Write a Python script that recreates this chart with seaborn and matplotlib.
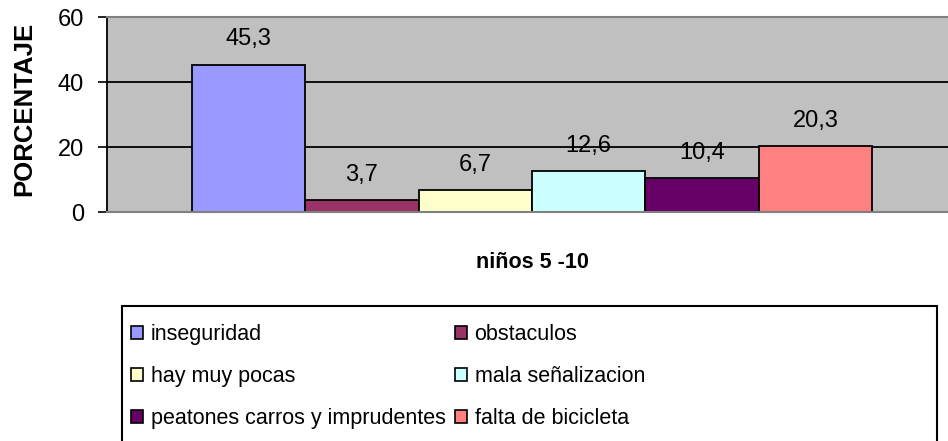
import pandas as pd
import matplotlib.pyplot as plt
import seaborn as sns
from matplotlib.patches import Patch, Rectangle

# Datos
grupo = "niños 5 -10"
causas = ["inseguridad", "obstaculos", "hay muy pocas", "mala señalizacion",
          "peatones carros y imprudentes", "falta de bicicleta"]
porcentajes = [45.3, 3.7, 6.7, 12.6, 10.4, 20.3]
colores = ["#9999FF", "#993366", "#FFFFCC", "#CCFFFF", "#660066", "#FF8080"]
yticks = [0, 20, 40, 60]

df = pd.DataFrame({"grupo": [grupo] * len(causas), "causa": causas, "porcentaje": porcentajes})

sns.set_style("white")
plt.rcParams["font.family"] = ["Liberation Sans", "DejaVu Sans"]
plt.rcParams["text.color"] = "black"
plt.rcParams["axes.labelcolor"] = "black"
plt.rcParams["ytick.color"] = "black"

fig = plt.figure(figsize=(9.48, 4.41), dpi=100)
ax = fig.add_axes([107 / 948, 229 / 441, 850 / 948, 195 / 441])
ax.set_facecolor("#C0C0C0")

sns.barplot(data=df, x="grupo", y="porcentaje", hue="causa", hue_order=causas,
            palette=colores, saturation=1, width=0.8, gap=0,
            edgecolor="black", linewidth=1.3, legend=False, ax=ax)

# etiquetas de valor
for cont, v in zip(ax.containers, porcentajes):
    for bar in cont:
        ax.annotate(f"{v:.1f}".replace(".", ","),
                    (bar.get_x() + bar.get_width() / 2, bar.get_height()),
                    xytext=(0, 14), textcoords="offset points",
                    ha="center", va="baseline", fontsize=17, color="black")

ax.set_xlim(-0.5, 0.5)
ax.set_ylim(0, 60)
ax.set_yticks(yticks)
ax.tick_params(axis="y", left=True, length=6.5, width=1.2, color="black",
               labelsize=17, pad=10, labelcolor="black")
ax.tick_params(axis="x", bottom=False, labelbottom=False)

ax.yaxis.grid(True, color="black", linewidth=1.3)
ax.set_axisbelow(True)
gls = ax.get_ygridlines()
gls[0].set_visible(False)
gls[-1].set_visible(False)

for s in ["top", "bottom", "right"]:
    ax.spines[s].set_color("#808080")
    ax.spines[s].set_linewidth(1.5)
ax.spines["left"].set_color("black")
ax.spines["left"].set_linewidth(1.3)

ax.set_ylabel("PORCENTAJE", fontsize=18.5, fontweight="bold")
ax.yaxis.set_label_coords(-0.083, 0.53)
ax.set_xlabel(grupo, fontsize=15.5, fontweight="bold")
ax.xaxis.set_label_coords(0.5, -0.205)

# leyenda (orden por filas como en el original)
orden = [0, 2, 4, 1, 3, 5]
handles = [Patch(facecolor=colores[i], edgecolor="black", linewidth=1.2) for i in orden]
labels = [causas[i] for i in orden]
fig.legend(handles, labels, loc="upper left", bbox_to_anchor=(131 / 948, 1 - 324 / 441),
           ncol=2, frameon=False, fontsize=15.5, handlelength=0.58, handleheight=0.58,
           handletextpad=0.35, columnspacing=0.4, labelspacing=0.98,
           borderpad=0, borderaxespad=0)
fig.patches.append(Rectangle((122 / 948, -0.05), 815 / 948, (441 - 306) / 441 + 0.05,
                             transform=fig.transFigure, fill=False,
                             edgecolor="black", linewidth=1.5))

fig.savefig("out.png", dpi=100)
